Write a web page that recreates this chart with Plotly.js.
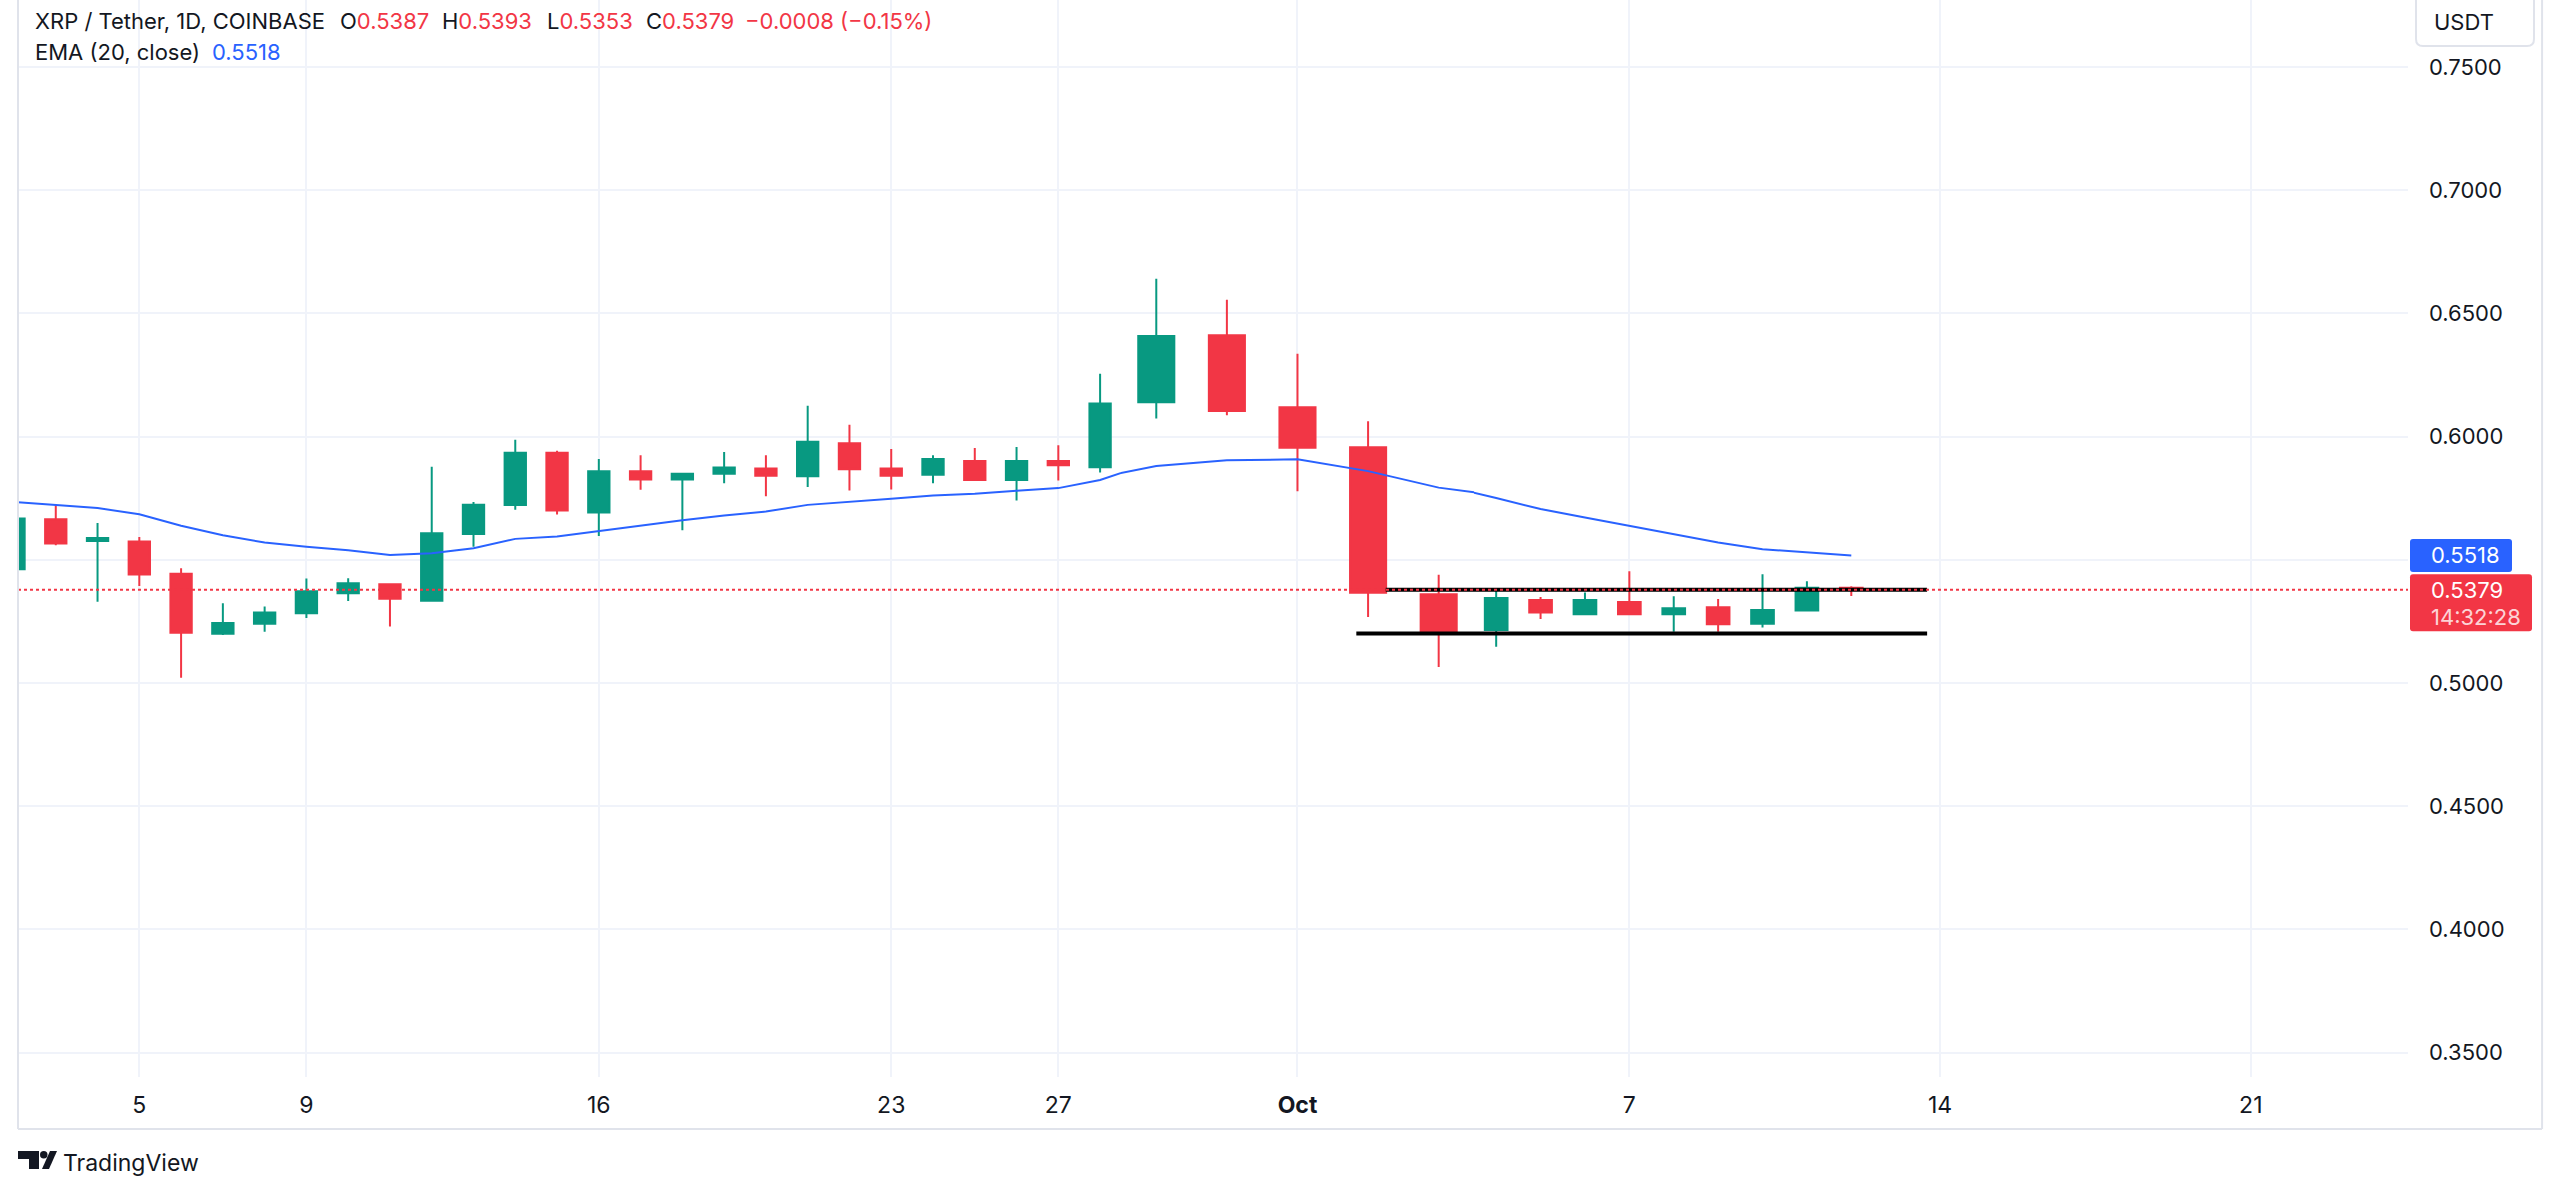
<!DOCTYPE html>
<html>
<head>
<meta charset="utf-8">
<script src="https://cdn.plot.ly/plotly-3.0.1.min.js"></script>
<style>
  html, body { margin: 0; padding: 0; background: #fff; }
  #chart { width: 2560px; height: 1194px; }
</style>
</head>
<body>
<div id="chart"></div>
<script>
// XRP / Tether, 1D, COINBASE — daily candles Sep 2 .. Oct 12 2024 with EMA(20, close)

// ------------------ Data ------------------
const dates = [
  '2024-09-02','2024-09-03','2024-09-04','2024-09-05','2024-09-06','2024-09-07','2024-09-08',
  '2024-09-09','2024-09-10','2024-09-11','2024-09-12','2024-09-13','2024-09-14','2024-09-15',
  '2024-09-16','2024-09-17','2024-09-18','2024-09-19','2024-09-20','2024-09-21','2024-09-22',
  '2024-09-23','2024-09-24','2024-09-25','2024-09-26','2024-09-27','2024-09-28','2024-09-29',
  '2024-09-30','2024-10-01','2024-10-02','2024-10-03','2024-10-04','2024-10-05','2024-10-06',
  '2024-10-07','2024-10-08','2024-10-09','2024-10-10','2024-10-11','2024-10-12'
];
const open = [
  0.5462, 0.5665, 0.5576, 0.5574, 0.5443, 0.5200, 0.5241,
  0.5283, 0.5364, 0.5401, 0.5334, 0.5605, 0.5722, 0.5935,
  0.5692, 0.5859, 0.5826, 0.5849, 0.5871, 0.5839, 0.5973,
  0.5871, 0.5845, 0.5901, 0.5824, 0.5901, 0.5876, 0.6139,
  0.6411, 0.6119, 0.5957, 0.5360, 0.5215, 0.5337, 0.5279,
  0.5329, 0.5279, 0.5307, 0.5241, 0.5294, 0.5387
];
const high = [
  0.5690, 0.5722, 0.5649, 0.5593, 0.5466, 0.5324, 0.5311,
  0.5424, 0.5425, 0.5405, 0.5878, 0.5735, 0.5987, 0.5943,
  0.5909, 0.5924, 0.5853, 0.5938, 0.5924, 0.6125, 0.6048,
  0.5950, 0.5924, 0.5954, 0.5958, 0.5965, 0.6255, 0.6641,
  0.6555, 0.6336, 0.6062, 0.5439, 0.5384, 0.5349, 0.5367,
  0.5454, 0.5352, 0.5341, 0.5441, 0.5413, 0.5393
];
const low = [
  0.5440, 0.5559, 0.5330, 0.5394, 0.5021, 0.5195, 0.5208,
  0.5264, 0.5333, 0.5229, 0.5330, 0.5553, 0.5703, 0.5684,
  0.5597, 0.5784, 0.5620, 0.5811, 0.5758, 0.5796, 0.5781,
  0.5785, 0.5811, 0.5822, 0.5741, 0.5822, 0.5854, 0.6074,
  0.6087, 0.5778, 0.5268, 0.5065, 0.5147, 0.5260, 0.5277,
  0.5277, 0.5208, 0.5208, 0.5225, 0.5292, 0.5353
];
const close = [
  0.5668, 0.5566, 0.5589, 0.5440, 0.5204, 0.5244, 0.5286,
  0.5372, 0.5405, 0.5342, 0.5608, 0.5723, 0.5935, 0.5700,
  0.5859, 0.5826, 0.5849, 0.5875, 0.5841, 0.5979, 0.5868,
  0.5841, 0.5909, 0.5824, 0.5901, 0.5884, 0.6134, 0.6408,
  0.6104, 0.5955, 0.5366, 0.5211, 0.5345, 0.5286, 0.5337,
  0.5279, 0.5303, 0.5238, 0.5296, 0.5387, 0.5379
];
const ema20 = [
  0.5735, 0.5721, 0.5710, 0.5685, 0.5638, 0.5600, 0.5570,
  0.5553, 0.5539, 0.5520, 0.5527, 0.5547, 0.5585, 0.5595,
  0.5617, 0.5638, 0.5661, 0.5680, 0.5696, 0.5723, 0.5737,
  0.5748, 0.5761, 0.5768, 0.5780, 0.5791, 0.5824, 0.5881,
  0.5904, 0.5908, 0.5860, 0.5793, 0.5751, 0.5706, 0.5672,
  0.5638, 0.5607, 0.5570, 0.5543, 0.5530, 0.5518
];

// time scale ticks
const tickDates = ['2024-09-05','2024-09-09','2024-09-16','2024-09-23','2024-09-27',
                   '2024-10-01','2024-10-07','2024-10-14','2024-10-21'];
const tickText = ['5','9','16','23','27','<b>Oct</b>','7','14','21'];

// the two horizontal lines drawn on the chart (range)
const trendLevels = [0.5378, 0.5201];
const trendStart = ['2024-10-02 06:00', '2024-10-01 20:00'];
const trendEnd = ['2024-10-13 17:00', '2024-10-13 17:00'];

const countdown = '14:32:28';

// ------------------ Style ------------------
const GREEN = '#089981';
const RED = '#f23645';
const BLUE = '#2962ff';
const TEXT = '#131722';
const GRID = '#f0f3fa';
const BORDER = '#e0e3eb';
const FONT = 'Inter, "Noto Sans", sans-serif';

// The time scale of the picture is not uniform (Sep 29 .. Oct 3 bars are drawn wider),
// so it is split into three x axes side by side, each with its own scale.
const segments = [
  { axis: 'x',  range: ['2024-09-02 02:18', '2024-09-28 12:00'], domain: [0, 0.4615] },
  { axis: 'x2', range: ['2024-09-28 12:00', '2024-10-03 12:00'], domain: [0.4615, 0.6092] },
  { axis: 'x3', range: ['2024-10-03 12:00', '2024-10-24 13:00'], domain: [0.6092, 1] }
];

// ------------------ Traces ------------------
const data = [];
segments.forEach(seg => {
  data.push({
    type: 'candlestick',
    x: dates, open: open, high: high, low: low, close: close,
    xaxis: seg.axis, yaxis: 'y',
    increasing: { line: { color: GREEN, width: 2 }, fillcolor: GREEN },
    decreasing: { line: { color: RED, width: 2 }, fillcolor: RED },
    whiskerwidth: 0,
    hoverinfo: 'skip'
  });
  data.push({
    type: 'scatter', mode: 'lines',
    x: dates, y: ema20,
    xaxis: seg.axis, yaxis: 'y',
    line: { color: BLUE, width: 2 },
    hoverinfo: 'skip'
  });
  trendLevels.forEach((lvl, i) => {
    data.push({
      type: 'scatter', mode: 'lines',
      x: [trendStart[i], trendEnd[i]], y: [lvl, lvl],
      xaxis: seg.axis, yaxis: 'y',
      line: { color: '#000', width: 4 },
      hoverinfo: 'skip'
    });
  });
});

// ------------------ Helpers ------------------
function roundRect(x0, y0, x1, y1, r) {
  return `M${x0 + r},${y0} L${x1 - r},${y0} Q${x1},${y0} ${x1},${y0 + r} ` +
         `L${x1},${y1 - r} Q${x1},${y1} ${x1 - r},${y1} L${x0 + r},${y1} ` +
         `Q${x0},${y1} ${x0},${y1 - r} L${x0},${y0 + r} Q${x0},${y0} ${x0 + r},${y0} Z`;
}
const fmt = v => v.toFixed(4);

const n = close.length - 1;
const lastClose = close[n];
const lastEma = ema20[n];
const candleColor = close[n] >= open[n] ? GREEN : RED;
const change = close[n] - close[n - 1];
const sign = change < 0 ? '\u2212' : '+';
const changeText = sign + fmt(Math.abs(change)) + ' (' + sign +
  Math.abs(change / close[n - 1] * 100).toFixed(2) + '%)';

// ------------------ Shapes ------------------
const shapes = [
  // last price line
  { type: 'line', xref: 'paper', x0: 0, x1: 1, yref: 'y', y0: lastClose, y1: lastClose,
    line: { color: RED, width: 2, dash: '3px,3px' }, layer: 'above' },
  // frame
  { type: 'line', xref: 'paper', x0: 0, x1: 0, yref: 'paper', y0: -0.0483, y1: 1.01,
    line: { color: BORDER, width: 2 } },
  { type: 'line', xref: 'paper', x0: 0, x1: 1.0561, yref: 'paper', y0: -0.0483, y1: -0.0483,
    line: { color: BORDER, width: 2 } },
  { type: 'line', xref: 'paper', x0: 1.0561, x1: 1.0561, yref: 'paper', y0: -0.0483, y1: 1.01,
    line: { color: BORDER, width: 2 } },
  // USDT button
  { type: 'path', xref: 'paper', xsizemode: 'pixel', xanchor: 1,
    yref: 'paper', ysizemode: 'pixel', yanchor: 1,
    path: roundRect(8, -46, 126, 8, 7), line: { color: BORDER, width: 2 }, fillcolor: '#fff' },
  // price scale labels
  { type: 'path', xref: 'paper', xsizemode: 'pixel', xanchor: 1,
    yref: 'y', ysizemode: 'pixel', yanchor: lastEma,
    path: roundRect(2, -16.5, 104, 16.5, 3), line: { width: 0 }, fillcolor: BLUE },
  { type: 'path', xref: 'paper', xsizemode: 'pixel', xanchor: 1,
    yref: 'y', ysizemode: 'pixel', yanchor: lastClose,
    path: roundRect(2, -41.5, 124, 15.5, 3), line: { width: 0 }, fillcolor: RED },
  // TradingView logo
  { type: 'path', xref: 'paper', xsizemode: 'pixel', xanchor: 0,
    yref: 'paper', ysizemode: 'pixel', yanchor: 0,
    path: 'M0,-74 L21,-74 L21,-92 L11,-92 L11,-82 L0,-82 Z', line: { width: 0 }, fillcolor: TEXT },
  { type: 'circle', xref: 'paper', xsizemode: 'pixel', xanchor: 0,
    yref: 'paper', ysizemode: 'pixel', yanchor: 0,
    x0: 22, x1: 29.5, y0: -81.5, y1: -74, line: { width: 0 }, fillcolor: TEXT },
  { type: 'path', xref: 'paper', xsizemode: 'pixel', xanchor: 0,
    yref: 'paper', ysizemode: 'pixel', yanchor: 0,
    path: 'M32,-74 L39,-74 L31,-92 L24,-92 Z', line: { width: 0 }, fillcolor: TEXT }
];

// ------------------ Annotations ------------------
function textAt(px, py, text, extra) {
  // px, py: pixel offsets from the plot's top-left corner
  return Object.assign({
    xref: 'paper', yref: 'paper', x: 0, y: 1, xanchor: 'left', yanchor: 'middle',
    xshift: px, yshift: -py, showarrow: false, text: text,
    font: { family: FONT, size: 22, color: TEXT }
  }, extra || {});
}
const val = (v, c) => `<span style="color:${c}">${v}</span>`;

const annotations = [
  textAt(15, 21, 'XRP / Tether, 1D, COINBASE'),
  textAt(320, 21, 'O' + val(fmt(open[n]), candleColor)),
  textAt(422, 21, 'H' + val(fmt(high[n]), candleColor)),
  textAt(527, 21, 'L' + val(fmt(low[n]), candleColor)),
  textAt(626, 21, 'C' + val(fmt(close[n]), candleColor)),
  textAt(725, 21, val(changeText, candleColor)),
  textAt(15, 52, 'EMA (20, close)'),
  textAt(192, 52, val(fmt(lastEma), BLUE)),
  // USDT button text
  { xref: 'paper', yref: 'paper', x: 1, y: 1, xanchor: 'left', yanchor: 'middle',
    xshift: 24, yshift: -22, showarrow: false, text: 'USDT',
    font: { family: FONT, size: 22, color: TEXT } },
  // price scale labels
  { xref: 'paper', yref: 'y', x: 1, y: lastEma, xanchor: 'left', yanchor: 'middle',
    xshift: 21, showarrow: false, text: fmt(lastEma),
    font: { family: FONT, size: 22, color: '#fff' } },
  { xref: 'paper', yref: 'y', x: 1, y: lastClose, xanchor: 'left', yanchor: 'middle',
    xshift: 21, showarrow: false, text: fmt(lastClose),
    font: { family: FONT, size: 22, color: '#fff' } },
  { xref: 'paper', yref: 'y', x: 1, y: lastClose, xanchor: 'left', yanchor: 'middle',
    xshift: 21, yshift: -27, showarrow: false, text: countdown,
    font: { family: FONT, size: 22, color: 'rgba(255,255,255,0.8)' } },
  // footer
  { xref: 'paper', yref: 'paper', x: 0, y: 0, xanchor: 'left', yanchor: 'middle',
    xshift: 43, yshift: -86, showarrow: false, text: 'TradingView',
    font: { family: FONT, size: 23, color: TEXT } }
];

// ------------------ Layout ------------------
const layout = {
  width: 2560, height: 1194,
  margin: { l: 18, r: 152, t: 0, b: 117 },
  paper_bgcolor: '#fff', plot_bgcolor: '#fff',
  showlegend: false,
  boxgap: 0.27,
  font: { family: FONT, size: 22, color: TEXT },
  yaxis: {
    side: 'right', anchor: 'x3',
    range: [0.3401, 0.7772], tick0: 0, dtick: 0.05, tickformat: '.4f',
    gridcolor: GRID, gridwidth: 2, zeroline: false, showline: false, ticks: '',
    ticklabelstandoff: 20,
    tickfont: { family: FONT, size: 22, color: TEXT }
  },
  shapes: shapes,
  annotations: annotations
};
segments.forEach(seg => {
  layout['xaxis' + seg.axis.slice(1)] = {
    type: 'date', anchor: 'y', domain: seg.domain, range: seg.range,
    tickvals: tickDates, ticktext: tickText,
    gridcolor: GRID, gridwidth: 2, zeroline: false, showline: false, ticks: '',
    ticklabelstandoff: 12,
    tickfont: { family: FONT, size: 23, color: TEXT },
    rangeslider: { visible: false }
  };
});

Plotly.newPlot('chart', data, layout, { staticPlot: true, displayModeBar: false });
</script>
</body>
</html>
